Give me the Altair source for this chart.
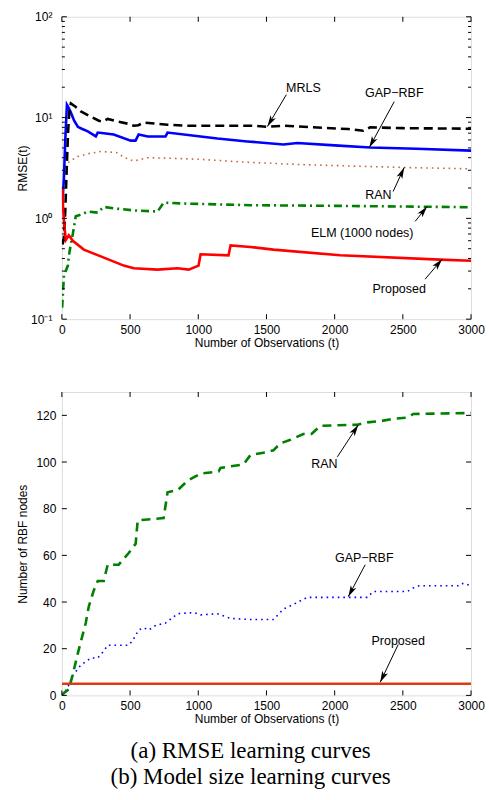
import math
import altair as alt
import pandas as pd

# ---------------- data ----------------
X_TICKS = [0, 500, 1000, 1500, 2000, 2500, 3000]
LOG_MAJOR = [0.1, 1, 10, 100]
LOG_MINOR = [m * d for d in (0.1, 1, 10) for m in range(2, 10)]
LIN_TICKS = [0, 20, 40, 60, 80, 100, 120]

# (a) RMSE learning curves
mrls_t = [5, 15, 25, 35, 45, 55, 66, 100, 139, 212, 271, 300, 336, 400, 483, 527, 560, 600,
          775, 922, 1200, 1400, 1507, 1625, 1917, 2100, 2210, 2260, 2500, 3000]
mrls_v = [0.55, 0.65, 1.2, 3.0, 7.0, 11.5, 13.8, 12.8, 11.5, 10.2, 9.3, 9.1, 9.7, 9.2, 8.7, 8.3, 8.4, 8.9,
          8.5, 8.3, 8.3, 8.3, 8.1, 8.3, 7.9, 7.7, 7.4, 8.0, 7.85, 7.75]

gap_t = [5, 15, 25, 37, 50, 66, 90, 117, 150, 190, 249, 263, 307, 380, 505, 540, 563, 630, 760, 775,
         1017, 1141, 1360, 1625, 1727, 2000, 2260, 2600, 3000]
gap_v = [1.5, 2.5, 6.0, 13.4, 12.5, 11.2, 9.3, 8.1, 7.7, 7.3, 6.5, 7.1, 7.0, 6.8, 5.9, 5.9, 6.8, 6.5, 6.5, 7.1,
         6.5, 6.2, 5.8, 5.4, 5.6, 5.3, 5.05, 4.9, 4.7]

ran_t = [5, 15, 29, 60, 115, 200, 285, 400, 460, 527, 630, 800, 1017, 1360, 1800, 2500, 3000]
ran_v = [1.5, 2.5, 3.4, 3.7, 4.1, 4.4, 4.6, 4.5, 4.0, 3.7, 4.0, 3.95, 3.85, 3.6, 3.4, 3.2, 3.1]

elm_t = [2, 15, 44, 51, 65, 80, 102, 150, 190, 263, 307, 400, 527, 702, 746, 922, 1383, 2041, 3000]
elm_v = [0.13, 0.27, 0.34, 0.42, 0.55, 0.70, 1.05, 1.1, 1.17, 1.14, 1.3, 1.25, 1.2, 1.17, 1.43, 1.4, 1.35, 1.33, 1.29]

prop_t = [3, 10, 20, 29, 51, 80, 161, 285, 454, 527, 702, 848, 930, 1002, 1017, 1222, 1237, 1383,
          1551, 2041, 2773, 3000]
prop_v = [2.0, 1.2, 0.8, 0.61, 0.68, 0.60, 0.49, 0.42, 0.34, 0.32, 0.31, 0.32, 0.31, 0.34, 0.44, 0.43, 0.54, 0.52,
          0.49, 0.43, 0.39, 0.38]

# (b) Model size learning curves
ranb_t = [0, 15, 51, 80, 117, 139, 175, 197, 234, 263, 307, 336, 417, 446, 490, 541, 556, 746, 775, 850,
          922, 1017, 1150, 1163, 1332, 1383, 1478, 1551, 1602, 1676, 1770, 1830, 1895, 2166, 2239, 2334,
          2429, 2532, 2576, 3000]
ranb_v = [0, 1, 2.6, 9, 18, 23, 31, 38, 45, 49, 49, 56, 56, 58, 61, 65, 75, 76, 87, 88,
          92, 95, 96, 97.5, 99, 103, 104, 105, 108, 109.5, 112, 112, 115.5, 116, 117, 117.5,
          118.5, 119, 120.6, 121]

gapb_t = [0, 40, 80, 139, 212, 263, 307, 336, 490, 519, 563, 600, 637, 688, 760, 849, 966, 1017, 1141,
          1237, 1383, 1551, 1625, 1698, 1800, 2239, 2283, 2532, 2576, 2620, 2920, 2942, 3000]
gapb_v = [0, 3, 8.5, 13, 16, 16, 19, 21.5, 21.5, 23.5, 28, 29, 28, 30, 31, 35, 35.5, 34.5, 35,
          33, 32.5, 32.5, 37, 39, 42, 42, 44.5, 44.5, 46, 47, 47, 48, 47]

propb_t = [0, 3000]
propb_v = [5, 5]

# annotations: label, text position, arrow start, arrow tip
top_labels = ["MRLS", "GAP\u2212RBF", "RAN", "ELM (1000 nodes)", "Proposed"]
top_text_t = [1771, 2437, 2320, 2202, 2473]
top_text_v = [19.8, 17.7, 1.69, 0.71, 0.198]
top_from_t = [1646, 2437, 2429, 2590, 2663]
top_from_v = [16.9, 14.4, 1.85, 0.933, 0.249]
top_tip_t = [1507, 2254, 2510, 2678, 2788]
top_tip_v = [8.15, 5.04, 3.2, 1.31, 0.393]

bot_labels = ["RAN", "GAP\u2212RBF", "Proposed"]
bot_text_t = [1924, 2217, 2466]
bot_text_v = [99.2, 59.0, 23.5]
bot_from_t = [2020, 2224, 2466]
bot_from_v = [102.2, 56.0, 21.8]
bot_tip_t = [2173, 2100, 2334]
bot_tip_v = [115.9, 42.3, 5.6]

# ---------------- styling ----------------
W = 410
H1 = 303
H2 = 304
FONT = "Liberation Sans"
SERIF = "Liberation Serif"
ARROW = "M0,0L0.55,2L0,1.5L-0.55,2Z"

xs = alt.Scale(domain=[0, 3000], nice=False, zero=False)
ys_top = alt.Scale(type="log", domain=[0.1, 100], nice=False)
ys_bot = alt.Scale(domain=[0, 130], nice=False, zero=False)

common_axis = dict(ticks=False, tickSize=0, domain=False, grid=False,
                   labelFont=FONT, titleFont=FONT, labelFontSize=12, titleFontSize=12,
                   labelColor="black", titleColor="black", titleFontWeight="normal")

x_axis = alt.Axis(values=X_TICKS, format="d", labelPadding=5, title="Number of Observations (t)",
                  titlePadding=2, labelFlush=False, **common_axis)
y_axis_top = alt.Axis(values=LOG_MAJOR, labelPadding=10, title="RMSE(t)",
                      labelExpr="datum.value < 0.5 ? '10\u207b\u00b9' : datum.value < 5 ? '10\u2070' : datum.value < 50 ? '10\u00b9' : '10\u00b2'",
                      titleX=-39, titleY=H1 / 2, titleBaseline="middle", labelFlush=False, **common_axis)
y_axis_bot = alt.Axis(values=LIN_TICKS, format="d", labelPadding=6, title="Number of RBF nodes",
                      titleX=-39, titleY=H2 / 2, titleBaseline="middle", labelFlush=False, **common_axis)


def X():
    return alt.X("t:Q", scale=xs, axis=x_axis)


def Y(scale, axis):
    return alt.Y("v:Q", scale=scale, axis=axis)


def line(t, v, scale, axis, **style):
    return alt.Chart(pd.DataFrame({"t": t, "v": v})).mark_line(clip=True, **style).encode(
        x=X(), y=Y(scale, axis))


def frame_ticks(H, scale, axis, major, minor=None):
    layers = []
    xt = alt.Chart(pd.DataFrame({"t": X_TICKS}))
    layers.append(xt.mark_rule(color="black", strokeWidth=1).encode(
        x=X(), y=alt.value(H), y2=alt.value(H - 5)))
    layers.append(xt.mark_rule(color="black", strokeWidth=1).encode(
        x=X(), y=alt.value(0), y2=alt.value(5)))
    yt = alt.Chart(pd.DataFrame({"v": major}))
    layers.append(yt.mark_rule(color="black", strokeWidth=1).encode(
        y=Y(scale, axis), x=alt.value(0), x2=alt.value(5)))
    layers.append(yt.mark_rule(color="black", strokeWidth=1).encode(
        y=Y(scale, axis), x=alt.value(W), x2=alt.value(W - 5)))
    if minor:
        ym = alt.Chart(pd.DataFrame({"v": minor}))
        layers.append(ym.mark_rule(color="black", strokeWidth=1).encode(
            y=Y(scale, axis), x=alt.value(0), x2=alt.value(3)))
        layers.append(ym.mark_rule(color="black", strokeWidth=1).encode(
            y=Y(scale, axis), x=alt.value(W), x2=alt.value(W - 3)))
    return layers


def annotations(labels, tt, tv, ft, fv, pt, pv, scale, axis, pyf):
    ang = []
    for a, b, c, d in zip(ft, fv, pt, pv):
        dx = (c - a) / 3000 * W
        dy = pyf(d) - pyf(b)
        ang.append(math.degrees(math.atan2(dx, -dy)) % 360)
    txt = pd.DataFrame({"t": tt, "v": tv, "label": labels})
    arr = pd.DataFrame({"t": ft, "v": fv, "t2": pt, "v2": pv})
    tip = pd.DataFrame({"t": pt, "v": pv, "ang": ang})
    return [
        alt.Chart(arr).mark_rule(color="black", strokeWidth=1).encode(
            x=X(), y=Y(scale, axis), x2="t2:Q", y2="v2:Q"),
        alt.Chart(tip).mark_point(shape=ARROW, filled=True, color="black", opacity=1,
                                  size=130, strokeWidth=0).encode(
            x=X(), y=Y(scale, axis), angle=alt.Angle("ang:Q", scale=None)),
        alt.Chart(txt).mark_text(font=FONT, fontSize=12.5, color="black").encode(
            x=X(), y=Y(scale, axis), text="label:N"),
    ]


py_top = lambda v: (2 - math.log10(v)) / 3 * H1
py_bot = lambda v: H2 - v / 130 * H2

top = alt.layer(
    line(ran_t, ran_v, ys_top, y_axis_top, color="#c8683c", strokeWidth=1.6, strokeDash=[1.6, 4]),
    line(elm_t, elm_v, ys_top, y_axis_top, color="#008000", strokeWidth=2.6, strokeDash=[8, 4, 2, 4]),
    line(gap_t, gap_v, ys_top, y_axis_top, color="#0000ff", strokeWidth=2.6),
    line(mrls_t, mrls_v, ys_top, y_axis_top, color="black", strokeWidth=2.6, strokeDash=[9, 5]),
    line(prop_t, prop_v, ys_top, y_axis_top, color="#ff0000", strokeWidth=2.6),
    *frame_ticks(H1, ys_top, y_axis_top, LOG_MAJOR, LOG_MINOR),
    *annotations(top_labels, top_text_t, top_text_v, top_from_t, top_from_v, top_tip_t, top_tip_v,
                 ys_top, y_axis_top, py_top),
).properties(width=W, height=H1)

bottom = alt.layer(
    line(gapb_t, gapb_v, ys_bot, y_axis_bot, color="#0000ff", strokeWidth=1.6, strokeDash=[1.6, 4]),
    line(ranb_t, ranb_v, ys_bot, y_axis_bot, color="#008000", strokeWidth=2.6, strokeDash=[9, 6]),
    line(propb_t, propb_v, ys_bot, y_axis_bot, color="#e03a14", strokeWidth=2.6),
    *frame_ticks(H2, ys_bot, y_axis_bot, LIN_TICKS),
    *annotations(bot_labels, bot_text_t, bot_text_v, bot_from_t, bot_from_v, bot_tip_t, bot_tip_v,
                 ys_bot, y_axis_bot, py_bot),
).properties(width=W, height=H2)

chart = alt.vconcat(top, bottom, spacing=42).properties(
    padding={"left": 16, "top": 9, "right": 4, "bottom": 4},
    title=alt.TitleParams(
        text="(a) RMSE learning curves",
        subtitle="(b) Model size learning curves",
        orient="bottom", anchor="middle", offset=15,
        font=SERIF, fontSize=23, fontWeight="normal", color="black",
        subtitleFont=SERIF, subtitleFontSize=23, subtitleColor="black", subtitlePadding=3,
    ),
).configure_view(stroke="black", strokeWidth=1).configure(background="white")

chart.save("out.html", embed_options={"renderer": "svg", "actions": False})
